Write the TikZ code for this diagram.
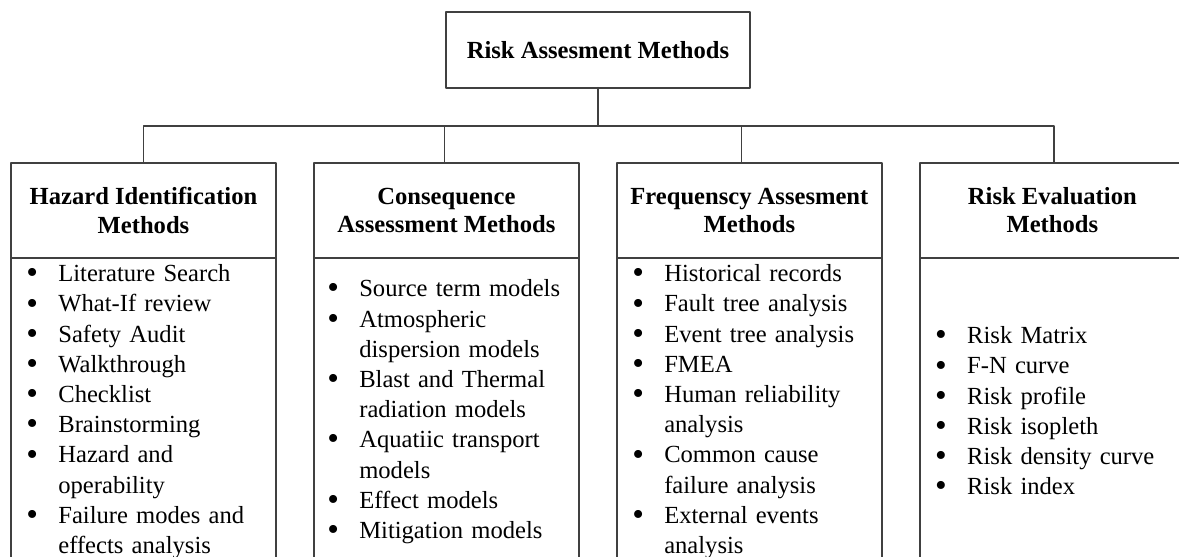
\documentclass[tikz,border=0pt]{standalone}
\usepackage{fontspec}
\setmainfont{Liberation Serif}
\usepackage{enumitem}
\usetikzlibrary{positioning}
\setlist[itemize]{nosep,label=\raisebox{-1.2pt}{\fontsize{19}{19}\selectfont\textbullet},leftmargin=0.64cm,labelsep=0pt,labelwidth=0.64cm,align=left}
\tikzset{
  line/.style={line width=0.9pt,draw=black!75},
  topbox/.style={line,minimum width=6.08cm,minimum height=1.51cm,inner sep=0pt,outer sep=0pt,font=\bfseries\fontsize{14}{16}\selectfont},
  headbox/.style={line,minimum width=5.3cm,minimum height=1.9cm,inner sep=0pt,outer sep=0pt,align=center,font=\bfseries\fontsize{14}{16}\selectfont},
  bodybox/.style={line,minimum width=5.3cm,minimum height=6.04cm,inner sep=0pt,outer sep=0pt},
  itemlist/.style={anchor=west,inner sep=0pt,yshift=0.075cm,text width=4.8cm,font=\fontsize{14}{17.2}\selectfont}
}
\begin{document}
\begin{tikzpicture}[line cap=round,line join=round,x=0.02cm,y=-0.02cm]
\useasboundingbox (0,0) rectangle (1179,557);
\clip (0,0) rectangle (1179,557);
\node[topbox] (risk) at (598,50) {Risk Assesment Methods};
\node[headbox] (head1) at (143.5,210.5) {Hazard Identification\\Methods};
\node[headbox,right=0.76cm of head1] (head2) {Consequence\\Assessment Methods};
\node[headbox,right=0.76cm of head2] (head3) {Frequenscy Assesment\\Methods};
\node[headbox,right=0.76cm of head3] (head4) {Risk Evaluation\\Methods};
\foreach \i in {1,...,4}
  \node[bodybox,below=0pt of head\i] (body\i) {};
\coordinate (bus) at (598,126);
\draw[line] (risk) -- (bus);
\foreach \i/\dx in {1/0,2/-0.04,3/-0.16,4/0.03}
  \draw[line] ([xshift=\dx cm]head\i.north) |- (bus);
\node[itemlist] (list1) at ([xshift=0.3cm]body1.west) {\begin{itemize}
  \item Literature Search
  \item What-If review
  \item Safety Audit
  \item Walkthrough
  \item Checklist
  \item Brainstorming
  \item Hazard and\newline operability
  \item Failure modes and\newline effects analysis
\end{itemize}};
\node[itemlist] (list2) at ([xshift=0.26cm]body2.west) {\begin{itemize}
  \item Source term models
  \item Atmospheric\newline dispersion models
  \item Blast and Thermal\newline radiation models
  \item Aquatiic transport\newline models
  \item Effect models
  \item Mitigation models
\end{itemize}};
\node[itemlist] (list3) at ([xshift=0.3cm]body3.west) {\begin{itemize}
  \item Historical records
  \item Fault tree analysis
  \item Event tree analysis
  \item FMEA
  \item Human reliability\newline analysis
  \item Common cause\newline failure analysis
  \item External events\newline analysis
\end{itemize}};
\node[itemlist] (list4) at ([xshift=0.3cm]body4.west) {\begin{itemize}
  \item Risk Matrix
  \item F-N curve
  \item Risk profile
  \item Risk isopleth
  \item Risk density curve
  \item Risk index
\end{itemize}};
\end{tikzpicture}
\end{document}
